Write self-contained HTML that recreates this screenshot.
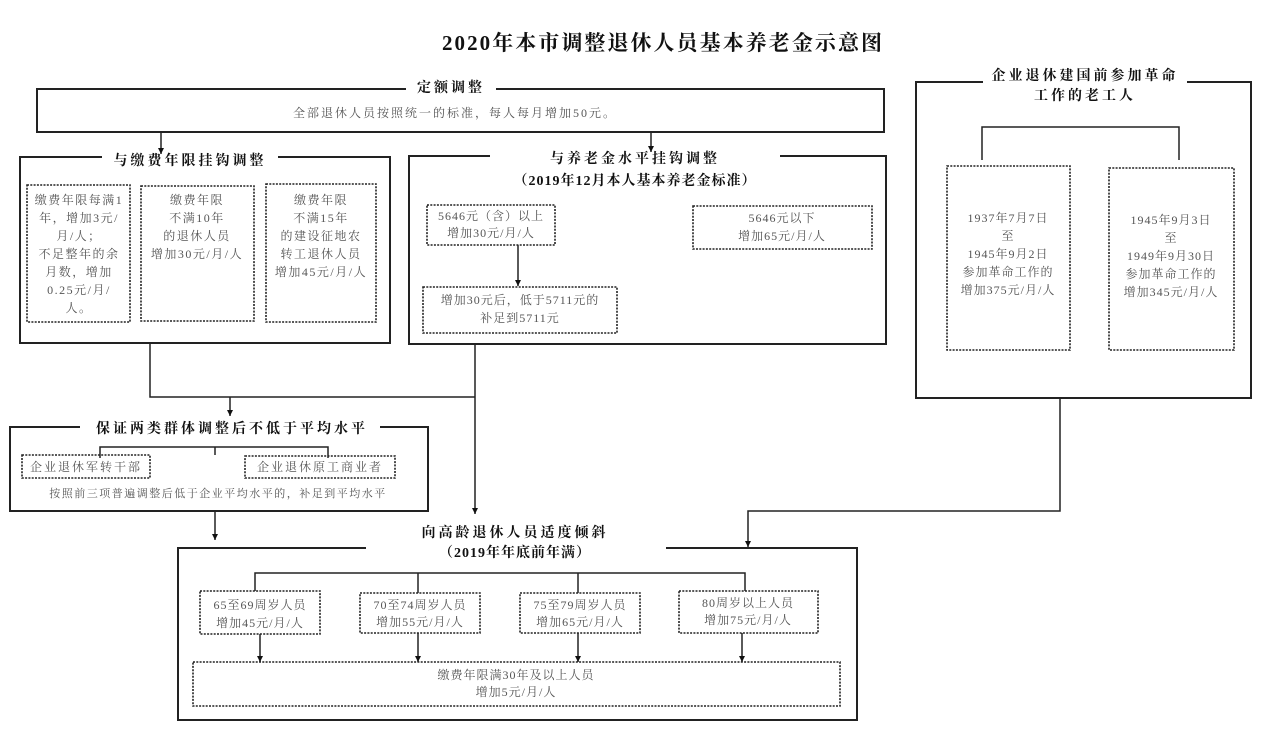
<!DOCTYPE html>
<html><head><meta charset="utf-8"><style>
html,body{margin:0;padding:0;background:#fff;}
svg text{font-family:"Liberation Serif","Noto Serif CJK SC","Noto Sans CJK SC",serif;}
.g{fill:#555;font-size:12px;}
.h{fill:#111;font-size:14px;font-family:"Liberation Serif","Noto Serif CJK SC",serif;font-weight:bold;}
</style></head><body>
<svg width="1280" height="732" viewBox="0 0 1280 732" xmlns="http://www.w3.org/2000/svg">
<defs><marker id="a" markerWidth="8" markerHeight="8" refX="6" refY="4" orient="auto" markerUnits="userSpaceOnUse"><path d="M0,1 L6,4 L0,7 Z" fill="#111"/></marker></defs>
<g fill="none" stroke="#222" stroke-width="2">
<rect x="37" y="89" width="847" height="43"/>
<rect x="20" y="157" width="370" height="186"/>
<rect x="409" y="156" width="477" height="188"/>
<rect x="916" y="82" width="335" height="316"/>
<rect x="10" y="427" width="418" height="84"/>
<rect x="178" y="548" width="679" height="172"/>
</g>
<g fill="#fff">
<rect x="406" y="78" width="90" height="18"/>
<rect x="102" y="150" width="176" height="18"/>
<rect x="490" y="148" width="290" height="18"/>
<rect x="983" y="72" width="204" height="18"/>
<rect x="80" y="419" width="300" height="18"/>
<rect x="366" y="540" width="300" height="16"/>
</g>
<g fill="none" stroke="#222" stroke-width="1.6" stroke-dasharray="2,1.3">
<rect x="27" y="185" width="103" height="137"/>
<rect x="141" y="186" width="113" height="135"/>
<rect x="266" y="184" width="110" height="138"/>
<rect x="427" y="205" width="128" height="40"/>
<rect x="693" y="206" width="179" height="43"/>
<rect x="423" y="287" width="194" height="46"/>
<rect x="947" y="166" width="123" height="184"/>
<rect x="1109" y="168" width="125" height="182"/>
<rect x="22" y="455" width="128" height="23"/>
<rect x="245" y="456" width="150" height="22"/>
<rect x="200" y="591" width="120" height="43"/>
<rect x="360" y="593" width="120" height="40"/>
<rect x="520" y="593" width="120" height="40"/>
<rect x="679" y="591" width="139" height="42"/>
<rect x="193" y="662" width="647" height="44"/>
</g>
<g fill="none" stroke="#222" stroke-width="1.5">
<line x1="161" y1="132" x2="161" y2="154" marker-end="url(#a)"/>
<line x1="651" y1="132" x2="651" y2="152" marker-end="url(#a)"/>
<line x1="518" y1="245" x2="518" y2="286" marker-end="url(#a)"/>
<polyline points="982,160 982,127 1179,127 1179,160"/>
<polyline points="150,343 150,397 475,397"/>
<line x1="475" y1="344" x2="475" y2="514" marker-end="url(#a)"/>
<line x1="230" y1="397" x2="230" y2="416" marker-end="url(#a)"/>
<polyline points="100,458 100,447 328,447 328,458"/>
<line x1="215" y1="447" x2="215" y2="455"/>
<line x1="215" y1="511" x2="215" y2="540" marker-end="url(#a)"/>
<polyline points="1060,398 1060,511 748,511 748,547" marker-end="url(#a)"/>
<polyline points="255,591 255,573 745,573 745,591"/>
<line x1="418" y1="573" x2="418" y2="593"/>
<line x1="578" y1="573" x2="578" y2="593"/>
<line x1="260" y1="634" x2="260" y2="662" marker-end="url(#a)"/>
<line x1="418" y1="633" x2="418" y2="662" marker-end="url(#a)"/>
<line x1="578" y1="633" x2="578" y2="662" marker-end="url(#a)"/>
<line x1="742" y1="633" x2="742" y2="662" marker-end="url(#a)"/>
</g>
<text x="442" y="50" font-size="21" font-weight="bold" fill="#111" textLength="440">2020年本市调整退休人员基本养老金示意图</text>
<text class="h" x="451" y="92" text-anchor="middle" letter-spacing="3">定额调整</text>
<text class="g" x="455" y="117" text-anchor="middle" letter-spacing="2">全部退休人员按照统一的标准，每人每月增加50元。</text>
<text class="h" x="190" y="165" text-anchor="middle" letter-spacing="3">与缴费年限挂钩调整</text>
<g class="g" text-anchor="middle" letter-spacing="1.5">
<text x="79" y="204">缴费年限每满1</text><text x="79" y="222">年，增加3元/</text><text x="79" y="240">月/人；</text><text x="79" y="258">不足整年的余</text><text x="79" y="276">月数，增加</text><text x="79" y="294">0.25元/月/</text><text x="79" y="312">人。</text>
<text x="197" y="204">缴费年限</text><text x="197" y="222">不满10年</text><text x="197" y="240">的退休人员</text><text x="197" y="258">增加30元/月/人</text>
<text x="321" y="204">缴费年限</text><text x="321" y="222">不满15年</text><text x="321" y="240">的建设征地农</text><text x="321" y="258">转工退休人员</text><text x="321" y="276">增加45元/月/人</text>
</g>
<text class="h" x="635" y="163" text-anchor="middle" letter-spacing="3">与养老金水平挂钩调整</text>
<text class="h" x="635" y="185" text-anchor="middle" letter-spacing="1">（2019年12月本人基本养老金标准）</text>
<g class="g" text-anchor="middle" letter-spacing="1">
<text x="491" y="220">5646元（含）以上</text><text x="491" y="237">增加30元/月/人</text>
<text x="782" y="222">5646元以下</text><text x="782" y="240">增加65元/月/人</text>
<text x="520" y="304">增加30元后，低于5711元的</text><text x="520" y="322">补足到5711元</text>
</g>
<text class="h" x="1085" y="80" text-anchor="middle" letter-spacing="3">企业退休建国前参加革命</text>
<text class="h" x="1085" y="100" text-anchor="middle" letter-spacing="3">工作的老工人</text>
<g class="g" text-anchor="middle" letter-spacing="1">
<text x="1008" y="222">1937年7月7日</text><text x="1008" y="240">至</text><text x="1008" y="258">1945年9月2日</text><text x="1008" y="276">参加革命工作的</text><text x="1008" y="294">增加375元/月/人</text>
<text x="1171" y="224">1945年9月3日</text><text x="1171" y="242">至</text><text x="1171" y="260">1949年9月30日</text><text x="1171" y="278">参加革命工作的</text><text x="1171" y="296">增加345元/月/人</text>
</g>
<text class="h" x="232" y="433" text-anchor="middle" letter-spacing="3">保证两类群体调整后不低于平均水平</text>
<g class="g" letter-spacing="2">
<text x="86" y="471" text-anchor="middle">企业退休军转干部</text>
<text x="320" y="471" text-anchor="middle">企业退休原工商业者</text>
<text x="218" y="497" text-anchor="middle" letter-spacing="1.5" font-size="11">按照前三项普遍调整后低于企业平均水平的，补足到平均水平</text>
</g>
<text class="h" x="515" y="537" text-anchor="middle" letter-spacing="3">向高龄退休人员适度倾斜</text>
<text class="h" x="515" y="557" text-anchor="middle" letter-spacing="1">（2019年年底前年满）</text>
<g class="g" text-anchor="middle" letter-spacing="1">
<text x="260" y="609">65至69周岁人员</text><text x="260" y="627">增加45元/月/人</text>
<text x="420" y="609">70至74周岁人员</text><text x="420" y="626">增加55元/月/人</text>
<text x="580" y="609">75至79周岁人员</text><text x="580" y="626">增加65元/月/人</text>
<text x="748" y="607">80周岁以上人员</text><text x="748" y="624">增加75元/月/人</text>
<text x="516" y="679">缴费年限满30年及以上人员</text><text x="516" y="696">增加5元/月/人</text>
</g>
</svg>
</body></html>
